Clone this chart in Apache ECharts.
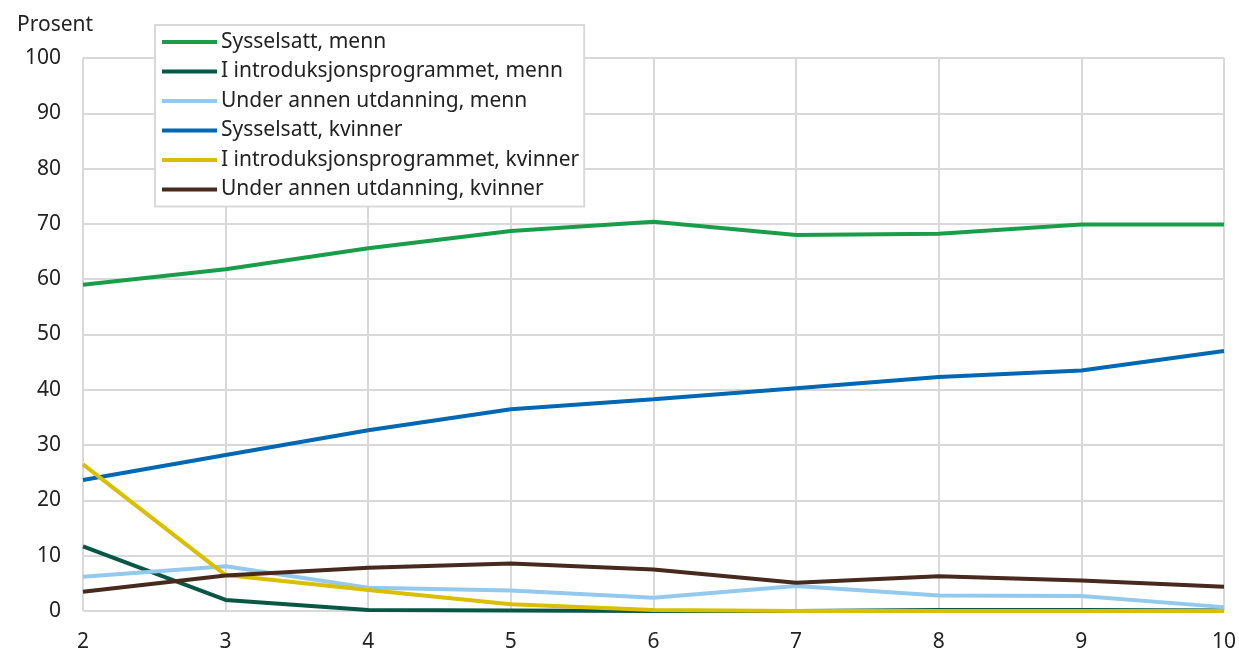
<!DOCTYPE html>
<html>
<head>
<meta charset="utf-8">
<script src="https://cdn.jsdelivr.net/npm/echarts@6/dist/echarts.min.js"></script>
<style>
html,body{margin:0;padding:0;background:#fff;}
#chart{width:1239px;height:654px;}
</style>
</head>
<body>
<div id="chart"></div>
<script>
const years = [2, 3, 4, 5, 6, 7, 8, 9, 10];
const seriesNames = [
  'Sysselsatt, menn',
  'I introduksjonsprogrammet, menn',
  'Under annen utdanning, menn',
  'Sysselsatt, kvinner',
  'I introduksjonsprogrammet, kvinner',
  'Under annen utdanning, kvinner'
];
const sysselsattMenn = [59.0, 61.8, 65.6, 68.7, 70.4, 68.0, 68.2, 69.9, 69.9];
const introMenn = [11.7, 2.0, 0.2, 0.1, 0.0, 0.0, 0.2, 0.2, 0.1];
const utdanningMenn = [6.2, 8.1, 4.2, 3.7, 2.4, 4.5, 2.8, 2.7, 0.7];
const sysselsattKvinner = [23.7, 28.2, 32.7, 36.5, 38.3, 40.3, 42.3, 43.5, 47.0];
const introKvinner = [26.5, 6.5, 3.8, 1.2, 0.2, 0.0, 0.0, 0.0, 0.0];
const utdanningKvinner = [3.5, 6.4, 7.8, 8.6, 7.5, 5.1, 6.3, 5.5, 4.4];
const yTicks = [0, 10, 20, 30, 40, 50, 60, 70, 80, 90, 100];

const allValues = [sysselsattMenn, introMenn, utdanningMenn, sysselsattKvinner, introKvinner, utdanningKvinner];
const colors = ['#1a9d49', '#075745', '#93c9ec', '#0067b3', '#d9bf00', '#47291d'];

const FONT = '"Noto Sans", "Open Sans", sans-serif';
const chart = echarts.init(document.getElementById('chart'), null, {renderer: 'canvas'});

const option = {
  animation: false,
  backgroundColor: '#ffffff',
  title: {
    text: 'Prosent',
    left: 12,
    top: 10,
    textStyle: {fontFamily: FONT, fontSize: 21, fontWeight: 'normal', color: '#222'}
  },
  legend: {
    orient: 'vertical',
    left: 155,
    top: 25,
    padding: [6, 5, 6, 7],
    backgroundColor: '#ffffff',
    borderColor: '#d9d9d9',
    borderWidth: 2,
    itemWidth: 55,
    itemHeight: 4,
    itemGap: 7.5,
    icon: 'rect',
    data: seriesNames,
    textStyle: {fontFamily: FONT, fontSize: 21, color: '#222', lineHeight: 22, padding: [0, 0, 0, -1]}
  },
  grid: {left: 83, right: 13, top: 58, bottom: 43, containLabel: false},
  xAxis: {
    type: 'value',
    min: 2,
    max: 10,
    interval: 1,
    axisLine: {show: false},
    axisTick: {show: false},
    axisLabel: {fontFamily: FONT, fontSize: 21, color: '#222', margin: 21},
    splitLine: {show: true, lineStyle: {color: '#d9d9d9', width: 2}}
  },
  yAxis: {
    type: 'value',
    min: 0,
    max: 100,
    interval: 10,
    axisLine: {show: false},
    axisTick: {show: false},
    axisLabel: {fontFamily: FONT, fontSize: 21, color: '#222', margin: 22},
    splitLine: {show: true, lineStyle: {color: '#d9d9d9', width: 2}}
  },
  series: seriesNames.map((name, i) => ({
    name: name,
    type: 'line',
    data: years.map((y, j) => [y, allValues[i][j]]),
    symbol: 'none',
    color: colors[i],
    lineStyle: {width: 4, color: colors[i]},
    z: 2 + i
  }))
};
chart.setOption(option);
</script>
</body>
</html>
